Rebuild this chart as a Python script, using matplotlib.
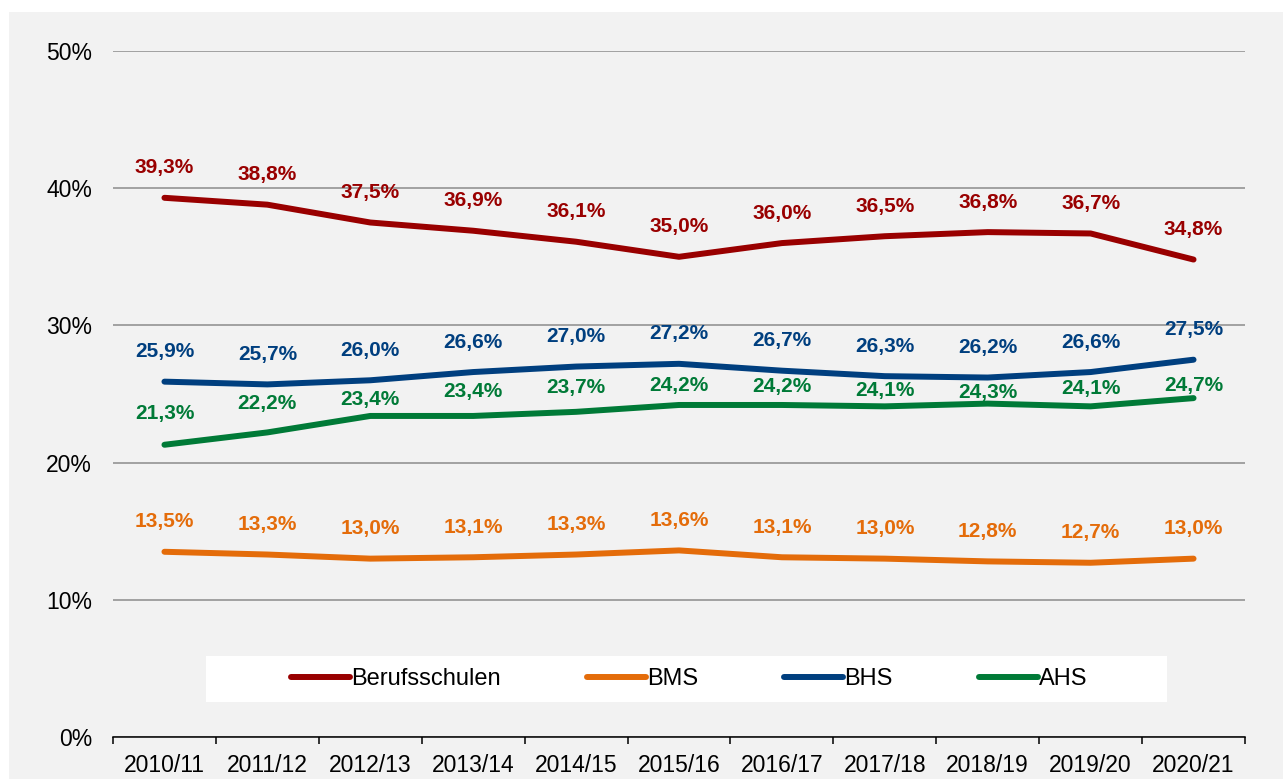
import matplotlib.pyplot as plt
from matplotlib.patches import Rectangle
from matplotlib.ticker import FuncFormatter

plt.rcParams['font.family'] = ['Liberation Sans', 'DejaVu Sans']

years = ['2010/11', '2011/12', '2012/13', '2013/14', '2014/15', '2015/16',
         '2016/17', '2017/18', '2018/19', '2019/20', '2020/21']

berufsschulen = [39.3, 38.8, 37.5, 36.9, 36.1, 35.0, 36.0, 36.5, 36.8, 36.7, 34.8]
bms = [13.5, 13.3, 13.0, 13.1, 13.3, 13.6, 13.1, 13.0, 12.8, 12.7, 13.0]
bhs = [25.9, 25.7, 26.0, 26.6, 27.0, 27.2, 26.7, 26.3, 26.2, 26.6, 27.5]
ahs = [21.3, 22.2, 23.4, 23.4, 23.7, 24.2, 24.2, 24.1, 24.3, 24.1, 24.7]

# Abstand der Beschriftung ueber der Linie (pt); AHS-Labels enger, damit sie nicht mit BHS kollidieren
std_off = [21.6] * len(years)
ahs_off = [22.3, 20.9, 12.2, 17.3, 17.3, 13.7, 13.0, 11.5, 7.9, 13.0, 9.4]

series = [
    ('Berufsschulen', berufsschulen, '#990000', std_off),
    ('BMS', bms, '#E46C0A', std_off),
    ('BHS', bhs, '#003F7F', std_off),
    ('AHS', ahs, '#007A37', ahs_off),
]

bg = '#f2f2f2'

fig = plt.figure(figsize=(12.84, 7.79), dpi=100)
fig.patch.set_facecolor('white')
# grauer Hintergrund mit schmalem weissen Rand oben/links
panel = Rectangle((9 / 1284, 0), 1 - 10 / 1284, 1 - 12 / 779,
                  transform=fig.transFigure, facecolor=bg,
                  edgecolor='none', zorder=-10)
fig.add_artist(panel)

ax = fig.add_axes([113 / 1284, 42 / 779, 1132 / 1284, 686 / 779])
ax.set_facecolor(bg)

x = list(range(len(years)))
for name, vals, col, offs in series:
    ax.plot(x, vals, color=col, lw=4.3, solid_capstyle='round',
            solid_joinstyle='round', label=name, zorder=3)
    for xi, v, o in zip(x, vals, offs):
        ax.annotate(f'{v:.1f}'.replace('.', ',') + '%', (xi, v),
                    xytext=(0, o), textcoords='offset points',
                    ha='center', va='center', fontsize=15, fontweight='bold',
                    color=col, zorder=4)

ax.set_xlim(-0.5, len(years) - 0.5)
ax.set_ylim(0, 50)
ax.set_yticks(range(0, 51, 10))
ax.yaxis.set_major_formatter(FuncFormatter(lambda v, p: f'{v:.0f}%'))
ax.yaxis.grid(True, color='#8c8c8c', lw=1.1)
ax.set_axisbelow(True)
ax.tick_params(axis='y', length=0, pad=15, labelsize=16.5, colors='black')

# Kategorieachse: Striche zwischen den Jahren, Beschriftung mittig
ax.set_xticks([i - 0.5 for i in range(len(years) + 1)])
ax.set_xticklabels([])
ax.set_xticks(x, minor=True)
ax.set_xticklabels(years, minor=True)
ax.tick_params(axis='x', which='major', length=5, width=1.1, direction='out', color='black')
ax.tick_params(axis='x', which='minor', length=0, pad=12, labelsize=16.5)

for s in ['top', 'right', 'left']:
    ax.spines[s].set_visible(False)
ax.spines['bottom'].set_color('black')
ax.spines['bottom'].set_linewidth(1.1)

# Legende in weissem Kasten
ax.add_patch(Rectangle((93 / 1132, 35 / 686), 961 / 1132, 46 / 686,
                       transform=ax.transAxes, facecolor='white',
                       edgecolor='none', zorder=2))
leg = ax.legend(loc='center', bbox_to_anchor=(576 / 1132, 58 / 686),
                bbox_transform=ax.transAxes, ncol=4, frameon=False,
                fontsize=17, handlelength=2.5, handletextpad=0.05,
                columnspacing=3.65)
leg.set_zorder(5)

fig.savefig('out.png', dpi=100, facecolor=fig.get_facecolor())
